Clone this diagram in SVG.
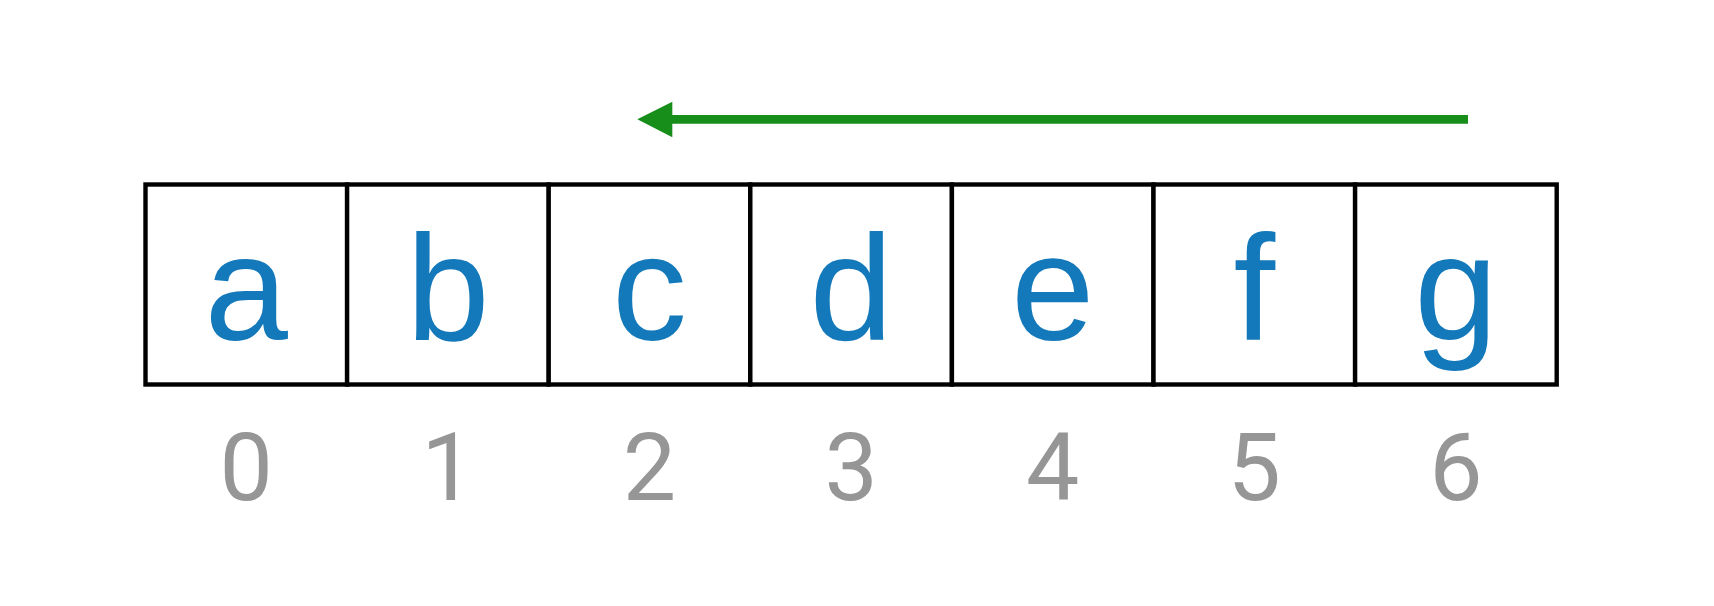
<svg xmlns="http://www.w3.org/2000/svg" width="1714" height="606" viewBox="0 0 1714 606">
<style>
.cell{fill:#fff;stroke:#000;stroke-width:4.4}
.lbl{font-family:"Liberation Sans",Arial,sans-serif;font-size:150px;fill:#1479BA;text-anchor:middle}
.idx{font-family:Roboto,"Liberation Sans",Arial,sans-serif;font-size:95px;fill:#969696;text-anchor:middle}
</style>
<rect width="1714" height="606" fill="#fff"/>
<g id="connectors">
<line x1="1468" y1="119.3" x2="670" y2="119.3" stroke="#178E1A" stroke-width="8.7"/>
<polygon points="637.3,119.3 672.3,101.7 672.3,137.3" fill="#178E1A"/>
</g>
<g id="node-0"><rect class="cell" x="145.5" y="184.5" width="201.6" height="200"/><text class="lbl" x="246.3" y="340">a</text><text class="idx" x="246.3" y="500">0</text></g>
<g id="node-1"><rect class="cell" x="347.1" y="184.5" width="201.6" height="200"/><text class="lbl" x="447.9" y="340">b</text><text class="idx" x="447.9" y="500">1</text></g>
<g id="node-2"><rect class="cell" x="548.7" y="184.5" width="201.6" height="200"/><text class="lbl" x="649.5" y="340">c</text><text class="idx" x="649.5" y="500">2</text></g>
<g id="node-3"><rect class="cell" x="750.3" y="184.5" width="201.6" height="200"/><text class="lbl" x="851.1" y="340">d</text><text class="idx" x="851.1" y="500">3</text></g>
<g id="node-4"><rect class="cell" x="951.9" y="184.5" width="201.6" height="200"/><text class="lbl" x="1052.7" y="340">e</text><text class="idx" x="1052.7" y="500">4</text></g>
<g id="node-5"><rect class="cell" x="1153.5" y="184.5" width="201.6" height="200"/><text class="lbl" x="1254.3" y="340">f</text><text class="idx" x="1254.3" y="500">5</text></g>
<g id="node-6"><rect class="cell" x="1355.1" y="184.5" width="201.6" height="200"/><text class="lbl" x="1455.9" y="340">g</text><text class="idx" x="1455.9" y="500">6</text></g>
</svg>
